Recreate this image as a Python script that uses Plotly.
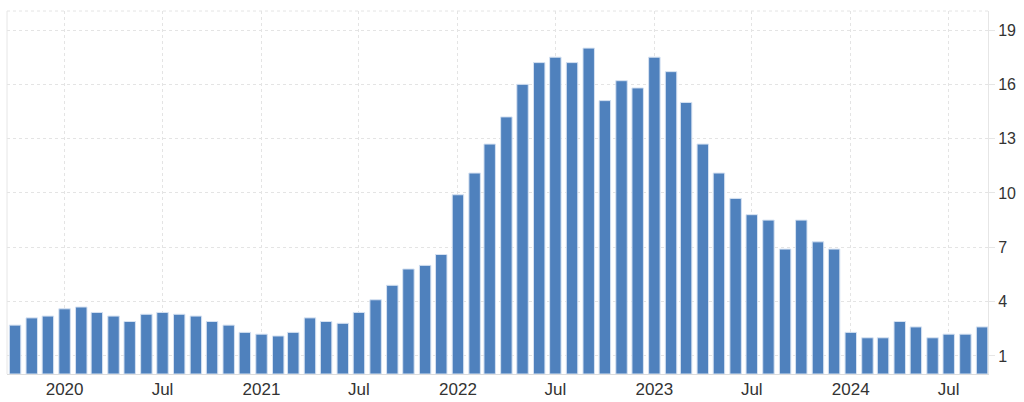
import plotly.graph_objects as go
import pandas as pd

months = pd.date_range("2019-10-01", "2024-09-01", freq="MS").strftime("%Y-%m-%d").tolist()
values = [
    2.7, 3.1, 3.2,
    3.6, 3.7, 3.4, 3.2, 2.9, 3.3, 3.4, 3.3, 3.2, 2.9, 2.7, 2.3,
    2.2, 2.1, 2.3, 3.1, 2.9, 2.8, 3.4, 4.1, 4.9, 5.8, 6.0, 6.6,
    9.9, 11.1, 12.7, 14.2, 16.0, 17.2, 17.5, 17.2, 18.0, 15.1, 16.2, 15.8,
    17.5, 16.7, 15.0, 12.7, 11.1, 9.7, 8.8, 8.5, 6.9, 8.5, 7.3, 6.9,
    2.3, 2.0, 2.0, 2.9, 2.6, 2.0, 2.2, 2.2, 2.6,
]
x_tickvals = ["2020-01-01", "2020-07-01", "2021-01-01", "2021-07-01", "2022-01-01",
              "2022-07-01", "2023-01-01", "2023-07-01", "2024-01-01", "2024-07-01"]
x_ticktext = ["2020", "Jul", "2021", "Jul", "2022", "Jul", "2023", "Jul", "2024", "Jul"]
y_tickvals = [1, 4, 7, 10, 13, 16, 19]

fig = go.Figure(go.Bar(
    x=months, y=values,
    marker=dict(color="#4f81bd", line=dict(color="#d6e2f2", width=1)),
    hoverinfo="x+y",
))

xfont = dict(family="Liberation Sans, Arial, sans-serif", size=17, color="#333333")
yfont = dict(family="Liberation Sans, Arial, sans-serif", size=16, color="#333333")

fig.update_layout(
    width=1024, height=402,
    margin=dict(l=7, r=36, t=11, b=28, autoexpand=False),
    paper_bgcolor="white", plot_bgcolor="white",
    bargap=0.24, showlegend=False,
    font=xfont,
    xaxis=dict(
        type="date", range=["2019-09-16", "2024-09-12"],
        tickvals=x_tickvals, ticktext=x_ticktext,
        showgrid=True, gridcolor="#e4e4e4", griddash="dot", gridwidth=1,
        showline=True, linecolor="#dcdcdc", linewidth=1,
        ticks="", tickfont=xfont, zeroline=False, automargin=False,
    ),
    yaxis=dict(
        side="right", range=[0, 20.05],
        tickvals=y_tickvals,
        showgrid=True, gridcolor="#e4e4e4", griddash="dot", gridwidth=1,
        showline=True, linecolor="#e6e6e6", linewidth=1,
        ticks="outside", ticklen=6, tickcolor="#e6e6e6",
        tickfont=yfont, zeroline=False, automargin=False,
    ),
    shapes=[
        dict(type="line", xref="paper", yref="paper", x0=0, x1=0, y0=0, y1=1,
             line=dict(color="#e6e6e6", width=1)),
        dict(type="line", xref="paper", yref="paper", x0=0, x1=1, y0=1, y1=1,
             line=dict(color="#e4e4e4", width=1, dash="dot")),
    ],
)

fig.write_html("out.html", config={"displayModeBar": False},
               post_script="document.body.style.margin='0';")
